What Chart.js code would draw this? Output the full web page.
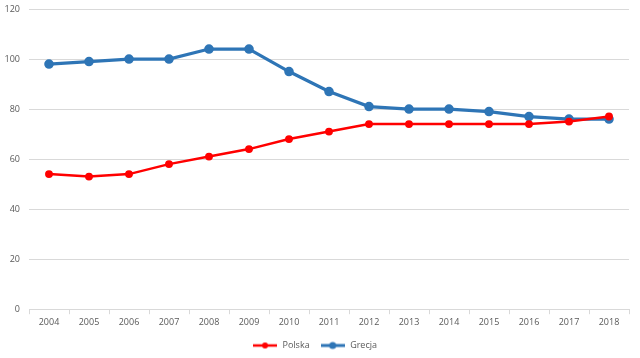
<!DOCTYPE html>
<html><head><meta charset="utf-8">
<script src="https://cdn.jsdelivr.net/npm/chart.js@4/dist/chart.umd.min.js"></script>
<style>html,body{margin:0;padding:0;background:#fff}#wrap{width:640px;height:358px}</style>
</head><body><div id="wrap"><canvas id="c" width="640" height="358"></canvas></div>
<script>
const years = ["2004","2005","2006","2007","2008","2009","2010","2011","2012","2013","2014","2015","2016","2017","2018"];
const polska = [54,53,54,58,61,64,68,71,74,74,74,74,74,75,77];
const grecja = [98,99,100,100,104,104,95,87,81,80,80,79,77,76,76];
const yTicks = [0,20,40,60,80,100,120];

function legendIcon(color, lw, r){
  const cv=document.createElement('canvas'); cv.width=24; cv.height=10;
  const x=cv.getContext('2d');
  x.strokeStyle=color; x.lineWidth=lw; x.beginPath(); x.moveTo(0,5); x.lineTo(24,5); x.stroke();
  x.fillStyle=color; x.beginPath(); x.arc(12,5,r,0,Math.PI*2); x.fill();
  return cv;
}
const redIcon=legendIcon('#ff0000',2.5,3);
const blueIcon=legendIcon('#2e75b6',3,3.5);

new Chart(document.getElementById('c'),{
  type:'line',
  data:{labels:years,datasets:[
    {label:'Polska',data:polska,borderColor:'#ff0000',backgroundColor:'#ff0000',borderWidth:2.5,pointRadius:2.7,pointHoverRadius:2.7,tension:0},
    {label:'Grecja',data:grecja,borderColor:'#2e75b6',backgroundColor:'#2e75b6',borderWidth:3.2,pointRadius:3.2,pointHoverRadius:3.2,tension:0}
  ]},
  options:{
    responsive:false,animation:false,
    layout:{padding:{left:0,right:11,top:9,bottom:-2}},
    plugins:{
      tooltip:{enabled:false},
      legend:{position:'bottom',labels:{
        usePointStyle:true,pointStyleWidth:26,boxHeight:10,padding:10,color:'#595959',font:{family:'Open Sans',size:9},
        generateLabels:(chart)=>chart.data.datasets.map((d,i)=>({text:d.label,fillStyle:d.borderColor,strokeStyle:d.borderColor,fontColor:'#595959',pointStyle:i===0?redIcon:blueIcon,lineWidth:0,datasetIndex:i,hidden:false}))
      }}
    },
    scales:{
      x:{offset:true,
        grid:{offset:true,drawOnChartArea:false,tickLength:5,color:'#d9d9d9'},
        border:{color:'#d9d9d9'},
        ticks:{color:'#595959',font:{family:'Open Sans',size:9},padding:3,maxRotation:0}
      },
      y:{min:0,max:120,
        afterBuildTicks:(s)=>{s.ticks=yTicks.map(v=>({value:v}));},
        afterFit:(s)=>{s.width=29;s.paddingTop=0;},
        grid:{color:'#d9d9d9',drawTicks:false},
        border:{display:false},
        ticks:{color:'#595959',font:{family:'Open Sans',size:9},padding:9}
      }
    }
  }
});
</script></body></html>
